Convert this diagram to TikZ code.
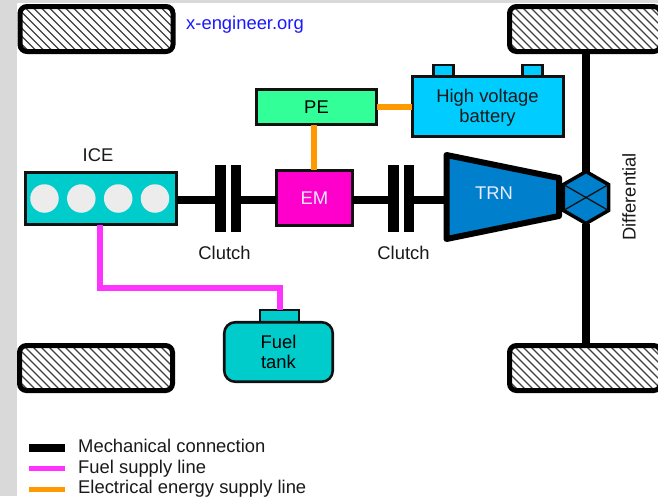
\documentclass[tikz,border=0pt]{standalone}
\usepackage{fontspec}
\setmainfont{Liberation Sans}
\usetikzlibrary{shapes.geometric}
\definecolor{pagegray}{HTML}{D9D9D9}
\definecolor{teal1}{HTML}{00CCCC}
\definecolor{pegreen}{HTML}{33FF99}
\definecolor{batblue}{HTML}{00CCFF}
\definecolor{emmag}{HTML}{FF00CC}
\definecolor{fuelmag}{HTML}{FF33FF}
\definecolor{elecor}{HTML}{FF9900}
\definecolor{trnblue}{HTML}{0080CC}
\definecolor{cyl}{HTML}{ECECEC}
\definecolor{ink}{HTML}{111111}
\tikzset{
  txt/.style={font=\fontsize{18.4}{20.5}\selectfont,align=center,inner sep=0pt,text=black!90},
  wtxt/.style={txt,text=white!92!blue},
  boxed/.style={draw=ink,line width=2.6pt,inner sep=0pt,outer sep=0pt,rectangle},
  tyre/.style={draw=black,line width=5pt,rounded corners=7pt,rectangle,inner sep=0pt,outer sep=2.5pt,
    minimum width=#1,minimum height=45pt,
    path picture={\foreach \k in {-60,-52,...,220}{
      \draw[line width=1.3pt,black!75] ([xshift=\k pt]path picture bounding box.north west) -- ++(60pt,-60pt);}}},
  plate/.style={fill=black,draw=none,rectangle,inner sep=0pt,outer sep=0pt,minimum width=10.5pt,minimum height=67pt},
  cylnode/.style={circle,fill=cyl,draw=none,minimum size=28.5pt,inner sep=0pt},
  mech/.style={draw=black,line width=8pt},
  fuel/.style={draw=fuelmag,line width=6pt,line join=miter},
  elec/.style={draw=elecor,line width=6pt},
  thinx/.style={draw=ink,line width=1.3pt},
}
\begin{document}
\begin{tikzpicture}[x=1pt,y=-1pt]
\useasboundingbox (0,0) rectangle (658,496);
\fill[pagegray] (0,0) rectangle (658,496);
\fill[white] (17,3) rectangle (658,496);
% tyres
\node[tyre=153pt] (tl) at (96.5,29) {};
\node[tyre=153pt] (bl) at (96,368) {};
\node[tyre=151pt] (tr) at (585,29) {};
\node[tyre=151pt] (br) at (585,368) {};
% components
\node[boxed,fill=teal1,minimum width=151pt,minimum height=52.5pt] (ice) at (101,198.5) {};
\node[cylnode] (c1) at (44.5,198.5) {};
\node[cylnode] (c2) at (81.3,198.5) {};
\node[cylnode] (c3) at (118.2,198.5) {};
\node[cylnode] (c4) at (155,198.5) {};
\node[txt] (icel) at (98,155) {ICE};
\node[plate] (p1) at (220.3,198.5) {};
\node[plate] (p2) at (236,198.5) {};
\node[plate] (p3) at (393.3,198.5) {};
\node[plate] (p4) at (409.2,198.5) {};
\node[txt] (cl1) at (224.5,253) {Clutch};
\node[txt] (cl2) at (403.5,253) {Clutch};
\node[boxed,fill=emmag,minimum width=76pt,minimum height=55.5pt,font=\fontsize{18.4}{20.5}\selectfont,text=white!92!blue] (em) at (314.3,198) {EM};
\node[boxed,fill=pegreen,minimum width=120.5pt,minimum height=35.5pt,font=\fontsize{18.4}{20.5}\selectfont] (pe) at (316.5,107) {PE};
% battery
\node[boxed,fill=batblue,minimum width=20pt,minimum height=12pt] (t1) at (443.3,71) {};
\node[boxed,fill=batblue,minimum width=20pt,minimum height=12pt] (t2) at (532.5,71) {};
\node[boxed,fill=batblue,minimum width=151.5pt,minimum height=60.5pt] (bat) at (488,106.5) {};
\node[txt] (batl) at (487.5,107.5) {High voltage\\battery};
% fuel tank
\node[boxed,fill=teal1,minimum width=39pt,minimum height=12pt] (cap) at (279.5,316) {};
\node[boxed,fill=teal1,minimum width=108.5pt,minimum height=59.5pt,rounded corners=11pt,font=\fontsize{18.4}{20.5}\selectfont,align=center] (tank) at (278.5,352) {Fuel\\tank};
% transmission
\coordinate (ta) at (446.5,155);
\coordinate (tb) at (559,178);
\coordinate (tc) at (559,216);
\coordinate (td) at (446.5,239);
\draw[black,fill=trnblue,line width=6pt,line join=round] (ta) -- (tb) -- (tc) -- (td) -- cycle;
\node[wtxt] (trn) at (494,193) {TRN};
\coordinate (trnw) at (446,199.5);
% differential
\node[regular polygon,regular polygon sides=6,shape border rotate=30,draw=black,fill=trnblue,line width=3.5pt,minimum size=52pt,inner sep=0pt,outer sep=0pt] (diff) at (586,197.5) {};
\draw[thinx] (diff.corner 2) -- (diff.corner 5);
\draw[thinx] (diff.corner 3) -- (diff.corner 6);
\node[txt,rotate=90] (dl) at (629,197) {Differential};
% connectors
\coordinate (sh) at (0,199.5);
\draw[mech] (ice.east |- sh) -- (p1.west |- sh);
\draw[mech] (p2.east |- sh) -- (em.west |- sh);
\draw[mech] (em.east |- sh) -- (p3.west |- sh);
\draw[mech] (p4.east |- sh) -- (trnw);
\draw[mech] (diff.corner 1) -- (diff.corner 1 |- tr.south);
\draw[mech] (diff.corner 4) -- (diff.corner 4 |- br.north);
\coordinate (fa) at (100,288);
\coordinate (fb) at (280,288);
\draw[fuel] (ice.south -| fa) -- (fa) -- (fb) -- (fb |- cap.north);
\draw[elec] (pe.south -| em.north) -- (em.north);
\draw[elec] (pe.east) -- (pe.east -| bat.west);
% label
\node[txt,text=blue!90!white,anchor=base west] (web) at (186,29) {x-engineer.org};
% legend
\coordinate (l1a) at (29,448);
\coordinate (l1b) at (65,448);
\coordinate (l2a) at (29,468.5);
\coordinate (l2b) at (65,468.5);
\coordinate (l3a) at (29,489);
\coordinate (l3b) at (65,489);
\draw[mech] (l1a) -- (l1b);
\draw[draw=fuelmag,line width=5pt] (l2a) -- (l2b);
\draw[draw=elecor,line width=5pt] (l3a) -- (l3b);
\node[txt,anchor=base west] (lt1) at (78,452) {Mechanical connection};
\node[txt,anchor=base west] (lt2) at (78,473) {Fuel supply line};
\node[txt,anchor=base west] (lt3) at (78,493) {Electrical energy supply line};
\end{tikzpicture}
\end{document}
